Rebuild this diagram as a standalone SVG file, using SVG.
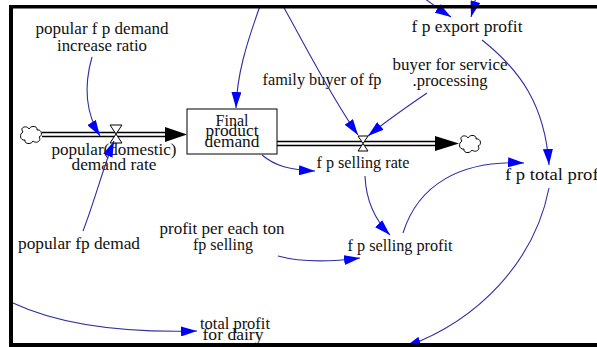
<svg xmlns="http://www.w3.org/2000/svg" width="597" height="347" viewBox="0 0 597 347">
  <style>
    .link { fill: none; stroke: #2e2ea6; stroke-width: 1.1; marker-end: url(#blueHead); }
    .pipeOuter { stroke: #000; stroke-width: 5.5; fill: none; }
    .pipeInner { stroke: #fff; stroke-width: 2.5; fill: none; }
    .valve { fill: #fff; stroke: #000; stroke-width: 1; }
    .cloud { fill: #fff; stroke: #000; stroke-width: 1; }
  </style>
  <defs>
    <marker id="blueHead" viewBox="0 0 16 10" refX="16" refY="5" markerWidth="16" markerHeight="10" markerUnits="userSpaceOnUse" orient="auto">
      <path d="M0,0 L16,5 L0,10 Z" fill="#0000ff"/>
    </marker>
    <path id="cloudShape" d="M-8,-3 C-12,-8 -4,-10 -2,-6 C0,-10 7,-9 6,-5 C11,-6 12,1 8,2 C11,6 5,9 2,6 C0,10 -7,9 -6,5 C-11,6 -12,-1 -8,-3 Z"/>
  </defs>
  <rect x="0" y="0" width="597" height="347" fill="#fff"/>

  <!-- material flows (pipes) -->
  <g id="flows">
    <line class="pipeOuter" x1="42" y1="134.5" x2="170" y2="134.5"/>
    <line class="pipeInner" x1="41" y1="134.5" x2="170" y2="134.5"/>
    <path d="M165,127 L187,134.5 L165,142 Z" fill="#000"/>
    <line class="pipeOuter" x1="277" y1="143.5" x2="440" y2="143.5"/>
    <line class="pipeInner" x1="277" y1="143.5" x2="440" y2="143.5"/>
    <path d="M435,136 L459,143.5 L435,151 Z" fill="#000"/>
  </g>

  <g id="source-cloud"><use href="#cloudShape" class="cloud" transform="translate(31,135)"/></g>
  <g id="sink-cloud"><use href="#cloudShape" class="cloud" transform="translate(470,144)"/></g>

  <g id="final-product-demand">
    <rect x="187" y="109" width="90" height="45" fill="#fff" stroke="#000" stroke-width="1"/>
  </g>

  <g id="valves">
    <path class="valve" d="M110,125 L122,125 L116,134 Z"/>
    <path class="valve" d="M110,143 L122,143 L116,134 Z"/>
    <path class="valve" d="M358,136 L368,136 L363,143.5 Z"/>
    <path class="valve" d="M358,151 L368,151 L363,143.5 Z"/>
  </g>

  <!-- variable names, left-aligned and fitted to width -->
  <g id="labels" font-family="Liberation Serif" font-size="17" fill="#111">
    <g id="final-product-demand-name">
      <text x="215.5" y="126" textLength="33" lengthAdjust="spacingAndGlyphs">Final</text>
      <text x="205.5" y="136" textLength="53" lengthAdjust="spacingAndGlyphs">product</text>
      <text x="204.5" y="147" textLength="55" lengthAdjust="spacingAndGlyphs">demand</text>
    </g>
    <g id="popular-domestic-demand-rate">
      <text x="51.5" y="155" textLength="125" lengthAdjust="spacingAndGlyphs">popular(domestic)</text>
      <text x="71.5" y="170" textLength="85" lengthAdjust="spacingAndGlyphs">demand rate</text>
    </g>
    <g id="fp-selling-rate">
      <text x="316.5" y="168" textLength="93" lengthAdjust="spacingAndGlyphs">f p selling rate</text>
    </g>
    <g id="popular-fp-demand-increase-ratio">
      <text x="35.5" y="34" textLength="133" lengthAdjust="spacingAndGlyphs">popular f p demand</text>
      <text x="57" y="51" textLength="90" lengthAdjust="spacingAndGlyphs">increase ratio</text>
    </g>
    <g id="popular-fp-demad"><text x="18" y="249" textLength="122" lengthAdjust="spacingAndGlyphs">popular fp demad</text></g>
    <g id="family-buyer-of-fp"><text x="262.5" y="85" textLength="119" lengthAdjust="spacingAndGlyphs">family buyer of fp</text></g>
    <g id="buyer-for-service-processing">
      <text x="392.5" y="70" textLength="115" lengthAdjust="spacingAndGlyphs">buyer for service</text>
      <text x="412.5" y="86" textLength="75" lengthAdjust="spacingAndGlyphs">.processing</text>
    </g>
    <g id="fp-export-profit"><text x="411.5" y="32" textLength="111" lengthAdjust="spacingAndGlyphs">f p export profit</text></g>
    <g id="fp-total-profit"><text x="505" y="180" textLength="104" lengthAdjust="spacingAndGlyphs">f p total profit</text></g>
    <g id="profit-per-each-ton">
      <text x="159.5" y="234" textLength="125" lengthAdjust="spacingAndGlyphs">profit per each ton</text>
      <text x="193" y="250" textLength="60" lengthAdjust="spacingAndGlyphs">fp selling</text>
    </g>
    <g id="fp-selling-profit"><text x="347.5" y="251" textLength="105" lengthAdjust="spacingAndGlyphs">f p selling profit</text></g>
    <g id="total-profit-for-dairy">
      <text x="200" y="329" textLength="70" lengthAdjust="spacingAndGlyphs">total profit</text>
      <text x="202.5" y="340" textLength="61" lengthAdjust="spacingAndGlyphs">for dairy</text>
    </g>
  </g>

  <!-- information links -->
  <g id="connectors">
    <path class="link" d="M92,57 C84,85 85,112 100,136"/>
    <path class="link" d="M83,231 C95,200 104,165 114,141"/>
    <path class="link" d="M260,6 C246,45 237,75 236,108"/>
    <path class="link" d="M283,6 C305,45 330,95 358,135"/>
    <path class="link" d="M427,93 C405,108 385,122 368,136"/>
    <path class="link" d="M262,155 C275,166 290,170 315,171"/>
    <path class="link" d="M365,176 C366,200 375,220 390,235"/>
    <path class="link" d="M278,256 C300,262 330,262 360,258"/>
    <path class="link" d="M403,233 C418,185 460,160 524,163"/>
    <path class="link" d="M482,40 C520,70 545,105 549,165"/>
    <path class="link" d="M549,188 C535,260 480,320 405,347"/>
    <path class="link" d="M13,303 C60,325 120,333 197,331"/>
    <path class="link" d="M415,-8 C430,2 440,10 451,17"/>
    <path class="link" d="M477,-8 C475,2 473,10 471,17"/>
  </g>

  <!-- frame -->
  <g id="frame" fill="#000">
    <rect x="9" y="5" width="588" height="3.5"/>
    <rect x="9" y="5" width="4" height="342"/>
    <rect x="9" y="343" width="588" height="4"/>
  </g>
</svg>
